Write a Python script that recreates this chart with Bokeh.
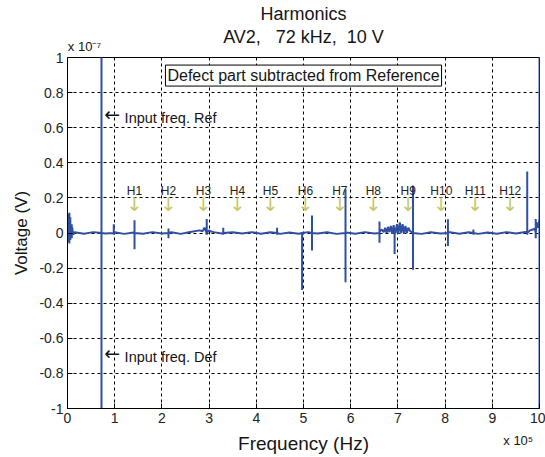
import numpy as np
from bokeh.plotting import figure
from bokeh.models import Label, Range1d, FixedTicker, LinearAxis, ColumnDataSource
from bokeh.core.properties import value
from bokeh.embed import file_html
from bokeh.resources import INLINE

# ---- data (x in units of 1e5 Hz, y in units of 1e-7 V) ----
spike_f  = [0.02, 0.04, 0.06, 0.09, 0.72, 0.98, 1.42, 2.14, 2.95, 3.30, 4.44, 4.97, 5.18, 5.89, 6.61, 6.93, 7.32, 8.06, 8.60, 9.74, 9.92, 10.0]
spike_hi = [0.11, 0.115, 0.09, 0.05, 1.20, 0.05, 0.072, 0.025, 0.08, 0.03, 0.03, 0.0, 0.10, 0.25, 0.065, 0.03, 0.27, 0.078, 0.02, 0.35, 0.08, 1.20]
spike_lo = [-0.05, -0.06, -0.04, -0.03, -1.20, -0.01, -0.093, -0.03, -0.01, -0.01, -0.01, -0.325, -0.10, -0.28, -0.055, -0.12, -0.21, -0.074, -0.01, -0.01, -0.03, -1.20]

base_f = [0.00, 0.01, 0.03, 0.05, 0.07, 0.08, 0.10, 0.12, 0.15, 0.35, 0.55, 0.80, 1.00, 1.20, 1.40, 1.60, 1.80,
          2.00, 2.20, 2.40, 2.60, 2.80, 2.86, 2.90, 3.00, 3.04, 3.10, 3.30, 3.50, 3.70, 3.90, 4.10, 4.30,
          4.50, 4.70, 4.90, 5.10, 5.30, 5.50, 5.70, 5.90, 6.10, 6.30, 6.50, 6.62, 6.66, 6.70, 6.73, 6.76,
          6.79, 6.82, 6.85, 6.88, 6.91, 6.95, 6.98, 7.01, 7.04, 7.07, 7.10, 7.13, 7.16, 7.19, 7.22, 7.26,
          7.30, 7.50, 7.70, 7.90, 8.10, 8.30, 8.50, 8.70, 8.90, 9.10, 9.30, 9.50, 9.70, 9.80, 9.86, 9.90,
          9.94, 9.97, 10.0]
base_v = [0.02, -0.03, 0.06, -0.04, 0.05, -0.02, 0.03, -0.01, 0.004, -0.004, 0.005, -0.003, 0.004, -0.005, 0.003,
          -0.004, 0.005, -0.003, 0.004, -0.005, 0.006, 0.015, 0.01, 0.03, 0.015, 0.008, 0.005, -0.004, 0.004,
          -0.003, 0.005, -0.004, 0.004, -0.005, 0.003, -0.004, 0.005, -0.003, 0.004, -0.005, 0.003, -0.004,
          0.005, -0.003, 0.01, 0.02, 0.005, 0.03, 0.0, 0.035, 0.005, 0.04, -0.005, 0.045, 0.0, 0.05, -0.005,
          0.06, 0.0, 0.05, -0.005, 0.04, 0.0, 0.03, 0.01, 0.004, -0.005, 0.004, -0.003, 0.005, -0.004, 0.004,
          -0.005, 0.003, -0.004, 0.005, -0.003, 0.006, 0.015, 0.02, 0.025, 0.06, 0.03, 0.08]

harm_labels = ["H1", "H2", "H3", "H4", "H5", "H6", "H7", "H8", "H9", "H10", "H11", "H12"]
harm_f = [1.42, 2.14, 2.88, 3.60, 4.30, 5.04, 5.77, 6.48, 7.22, 7.92, 8.64, 9.38]

x_ticks = [0, 1, 2, 3, 4, 5, 6, 7, 8, 9, 10]
y_ticks = [-1, -0.8, -0.6, -0.4, -0.2, 0, 0.2, 0.4, 0.6, 0.8, 1]
y_tick_labels = ["-1", "-0.8", "-0.6", "-0.4", "-0.2", "0", "0.2", "0.4", "0.6", "0.8", "1"]

title_line1 = "Harmonics"
title_line2 = "AV2,\u00a0\u00a0\u00a072 kHz,\u00a0\u00a010 V"

# ---- build trace ----
events = [(f, 0, [v]) for f, v in zip(base_f, base_v)]
events += [(f, 1, [0.0, hi, lo, 0.0]) for f, hi, lo in zip(spike_f, spike_hi, spike_lo)]
events.sort(key=lambda e: (e[0], e[1]))
tx, ty = [], []
for f, _, vals in events:
    for v in vals:
        tx.append(f)
        ty.append(v)

BLUE = "#2f4fa0"
FONT = "Liberation Sans"
TXT = "#151515"

p = figure(width=545, height=457, output_backend="svg", toolbar_location=None,
           x_range=Range1d(0, 10), y_range=Range1d(-1, 1),
           min_border_left=67, min_border_right=6, min_border_top=57, min_border_bottom=49)
p.outline_line_color = "black"
p.outline_line_width = 1
p.outline_line_alpha = 1
p.background_fill_color = "white"

p.line(tx, ty, line_color=BLUE, line_width=2)

# axes
for ax in (p.xaxis[0], p.yaxis[0]):
    ax.major_tick_in = 5
    ax.major_tick_out = 0
    ax.minor_tick_line_color = None
    ax.axis_line_color = "black"
    ax.major_label_text_font = FONT
    ax.major_label_text_font_size = "14px"
    ax.major_label_text_color = "#222222"
    ax.major_label_standoff = 4
p.xaxis[0].ticker = FixedTicker(ticks=x_ticks)
p.yaxis[0].ticker = FixedTicker(ticks=y_ticks)
p.yaxis[0].major_label_overrides = {t: s for t, s in zip(y_ticks, y_tick_labels)}
p.yaxis[0].axis_label = "Voltage (V)"
p.yaxis[0].axis_label_text_font = FONT
p.yaxis[0].axis_label_text_font_size = "17px"
p.yaxis[0].axis_label_text_font_style = "normal"
p.yaxis[0].axis_label_text_color = TXT
p.yaxis[0].axis_label_standoff = 5

# second bottom axis: exponent + axis label
bot2 = LinearAxis(ticker=FixedTicker(ticks=[9.55]), major_label_overrides={9.55: "x 10⁵"},
                  major_label_text_font=FONT,
                  major_label_text_font_size="13px", major_label_text_color=TXT,
                  major_tick_in=0, major_tick_out=0, minor_tick_line_color=None,
                  axis_line_color=None, major_label_standoff=7,
                  axis_label="Frequency (Hz)", axis_label_text_font=FONT,
                  axis_label_text_font_size="19px", axis_label_text_font_style="normal",
                  axis_label_text_color=TXT, axis_label_standoff=-18)
p.add_layout(bot2, "below")

# top axis: exponent for y
top = LinearAxis(ticker=FixedTicker(ticks=[0.36]), major_label_overrides={0.36: "x 10⁻⁷"},
                 major_label_text_font=FONT,
                 major_label_text_font_size="13px", major_label_text_color=TXT,
                 major_tick_in=0, major_tick_out=0, minor_tick_line_color=None,
                 axis_line_color=None, major_label_standoff=4)
p.add_layout(top, "above")

# second top axis: two-line title
top2 = LinearAxis(ticker=FixedTicker(ticks=[5.0]), major_label_overrides={5.0: title_line2},
                  major_label_text_font=FONT,
                  major_label_text_font_size="18px", major_label_text_color=TXT,
                  major_tick_in=0, major_tick_out=0, minor_tick_line_color=None,
                  axis_line_color=None, major_label_standoff=-11,
                  axis_label=title_line1, axis_label_text_font=FONT,
                  axis_label_text_font_size="18px", axis_label_text_font_style="normal",
                  axis_label_text_color=TXT, axis_label_standoff=0)
p.add_layout(top2, "above")

p.grid.grid_line_color = "black"
p.grid.grid_line_dash = "3 3"
p.grid.grid_line_width = 1
p.xgrid.ticker = FixedTicker(ticks=x_ticks)
p.ygrid.ticker = FixedTicker(ticks=y_ticks)

# harmonic labels and arrows
src = ColumnDataSource(dict(x=harm_f, t=harm_labels, a=["↓"] * len(harm_f)))
p.text(x="x", y=0.238, text="t", source=src, text_font=value(FONT), text_font_size="12px",
       text_color="#222222", text_align="center", text_baseline="alphabetic")
p.text(x="x", y=0.165, text="a", source=src, text_font=value("DejaVu Sans"), text_font_size="19px",
       text_color="#c6c866", text_align="center", text_baseline="middle")

def lab(x, y, text, size, font=FONT, **kw):
    l = Label(x=x, y=y, text=text, text_font=font, text_font_size=size, text_color=TXT, **kw)
    p.add_layout(l)
    return l

# annotations
lab(0.78, 0.68, "←", "19px", font="DejaVu Sans", text_align="left", text_baseline="middle")
lab(1.21, 0.655, "Input freq. Ref", "14.5px", text_align="left", text_baseline="alphabetic")
lab(0.78, -0.682, "←", "19px", font="DejaVu Sans", text_align="left", text_baseline="middle")
lab(1.21, -0.707, "Input freq. Def", "14.5px", text_align="left", text_baseline="alphabetic")
lab(5.0, 0.897, "Defect part subtracted from Reference", "16px", text_align="center",
    text_baseline="middle", background_fill_color="white", border_line_color="black",
    border_line_width=1, padding=2)

open("out.html", "w").write(file_html(p, INLINE))
